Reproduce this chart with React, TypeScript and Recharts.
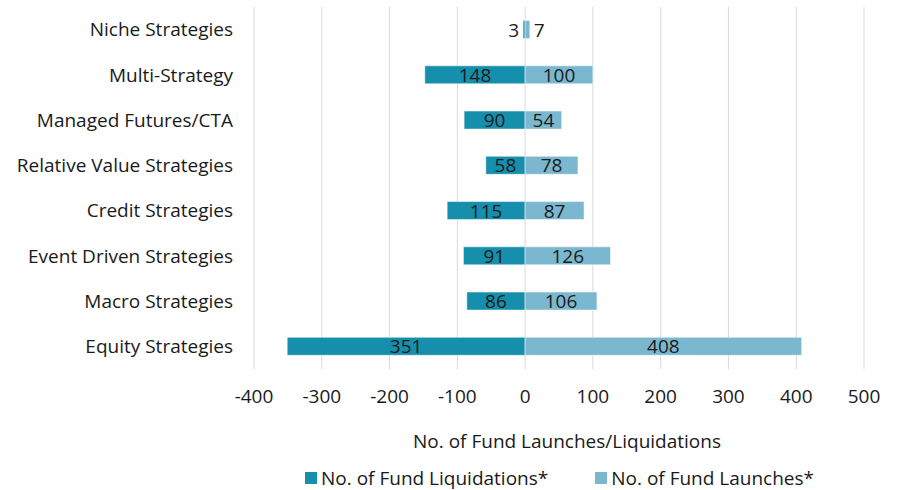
import { BarChart, Bar, XAxis, YAxis, CartesianGrid, Legend, LabelList } from 'recharts'

const categories = [
  'Niche Strategies',
  'Multi-Strategy',
  'Managed Futures/CTA',
  'Relative Value Strategies',
  'Credit Strategies',
  'Event Driven Strategies',
  'Macro Strategies',
  'Equity Strategies',
]
const liquidations = [3, 148, 90, 58, 115, 91, 86, 351]
const launches = [7, 100, 54, 78, 87, 126, 106, 408]
const xTicks = [-400, -300, -200, -100, 0, 100, 200, 300, 400, 500]

const DARK = '#168fad'
const LIGHT = '#7bb8cf'
const FONT = '"Open Sans", sans-serif'
const FS = 19

const data = categories.map((name, i) => ({
  name,
  liq: liquidations[i],
  liqNeg: -liquidations[i],
  launch: launches[i],
}))

const BarValue = (props: any) => {
  const { x, y, width, height, value } = props
  const left = Math.min(x, x + width)
  const w = Math.abs(width)
  const cy = y + height / 2
  let tx = left + w / 2
  let anchor: 'middle' | 'start' | 'end' = 'middle'
  if (w < 22) {
    if (props.negative) {
      tx = left - 4
      anchor = 'end'
    } else {
      tx = left + w + 4
      anchor = 'start'
    }
  }
  return (
    <text x={tx} y={cy} textAnchor={anchor} dominantBaseline="central" fill="#1a1a1a" style={{ fontSize: FS, fontFamily: FONT }}>
      {value}
    </text>
  )
}

const LegendBox = () => (
  <div style={{ height: 30, paddingTop: 5, boxSizing: 'border-box', display: 'flex', alignItems: 'center', fontFamily: FONT, fontSize: FS, color: '#1a1a1a' }}>
    <div style={{ display: 'flex', alignItems: 'center', marginLeft: 305 }}>
      <span style={{ width: 12, height: 12, background: DARK, marginRight: 4 }} />
      No. of Fund Liquidations*
    </div>
    <div style={{ display: 'flex', alignItems: 'center', marginLeft: 47 }}>
      <span style={{ width: 12, height: 12, background: LIGHT, marginRight: 4 }} />
      No. of Fund Launches*
    </div>
  </div>
)

export default function App() {
  return (
    <div style={{ position: 'absolute', left: 0, top: 0 }}>
      <BarChart
        width={897}
        height={490}
        data={data}
        layout="vertical"
        stackOffset="sign"
        barCategoryGap="30%"
        margin={{ top: 7, right: 33, bottom: 0, left: 0 }}
      >
        <CartesianGrid horizontal={false} stroke="#d9d9d9" />
        <XAxis
          type="number"
          domain={[-400, 500]}
          ticks={xTicks}
          axisLine={false}
          tickLine={false}
          tickMargin={15}
          height={91}
          tick={{ fill: '#1a1a1a', fontSize: FS, fontFamily: FONT }}
          label={{ value: 'No. of Fund Launches/Liquidations', position: 'insideBottom', offset: 12, dx: 8, fill: '#1a1a1a', fontSize: FS, fontFamily: FONT }}
        />
        <YAxis
          type="category"
          dataKey="name"
          width={254}
          axisLine={false}
          tickLine={false}
          tickMargin={15}
          tick={{ fill: '#1a1a1a', fontSize: FS, fontFamily: FONT }}
        />
        <Legend verticalAlign="bottom" content={<LegendBox />} />
        <Bar dataKey="liqNeg" stackId="a" fill={DARK} stroke="#ffffff" strokeWidth={0.5} isAnimationActive={false}>
          <LabelList dataKey="liq" content={(p: any) => <BarValue {...p} negative />} />
        </Bar>
        <Bar dataKey="launch" stackId="a" fill={LIGHT} stroke="#ffffff" strokeWidth={0.5} isAnimationActive={false}>
          <LabelList dataKey="launch" content={(p: any) => <BarValue {...p} />} />
        </Bar>
      </BarChart>
    </div>
  )
}
